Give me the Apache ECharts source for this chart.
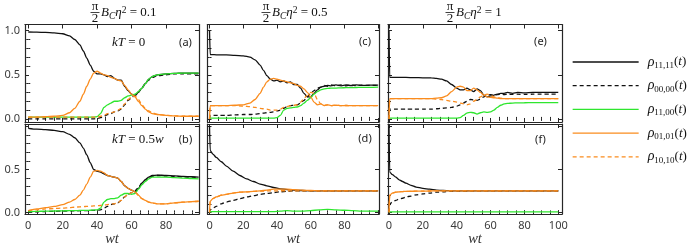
<!DOCTYPE html>
<html><head><meta charset="utf-8">
<script src="https://cdn.jsdelivr.net/npm/echarts@6/dist/echarts.min.js"></script>
<style>html,body{margin:0;padding:0;background:#fff}#c{width:696px;height:248px}</style>
</head><body><div id="c"></div><script>
// ---------- data ----------
const seriesNames = ['ρ11,11(t)', 'ρ00,00(t)', 'ρ11,00(t)', 'ρ01,01(t)', 'ρ10,10(t)'];
const seriesSubs = ['11,11', '00,00', '11,00', '01,01', '10,10'];
const colTitles = ['0.1', '0.5', '1'];
const rowLabels = ['0', '0.5'];
const panelTags = ['(a)', '(c)', '(e)', '(b)', '(d)', '(f)'];
const xMajor = [0, 20, 40, 60, 80, 100];
const xMinor = [5, 10, 15, 25, 30, 35, 45, 50, 55, 65, 70, 75, 85, 90, 95];
const xLabels12 = [0, 20, 40, 60, 80];
const xLabels3 = [0, 20, 40, 60, 80, 100];
const yMajor = [0, 0.5, 1];
const yMinor = [0.1, 0.2, 0.3, 0.4, 0.6, 0.7, 0.8, 0.9];
const yLabelsTop = [0, 0.5, 1];
const yLabelsBottom = [0, 0.5];

// panel (a): kT = 0, 0.1
const tA = [0,5,10,15,20,24,27,30,32,34,36,38,40,42,44,46,48,50,52,54,56,58,60,62,64,66,68,70,72,75,80,85,90,95,99];
const a1111 = [0.985,0.983,0.98,0.975,0.965,0.94,0.9,0.84,0.77,0.69,0.61,0.54,0.51,0.51,0.5,0.48,0.49,0.46,0.44,0.44,0.37,0.32,0.28,0.26,0.3,0.35,0.4,0.45,0.48,0.5,0.51,0.515,0.52,0.52,0.52];
const a0000 = [0,0,0,0,0,0,0,0,0,0,0,0,0.005,0.015,0.03,0.05,0.06,0.08,0.09,0.11,0.16,0.21,0.24,0.27,0.31,0.35,0.4,0.44,0.47,0.49,0.5,0.51,0.51,0.51,0.51];
const a1100 = [0.02,0.02,0.02,0.02,0.02,0.02,0.02,0.02,0.02,0.02,0.02,0.02,0.025,0.06,0.13,0.16,0.18,0.2,0.2,0.21,0.24,0.26,0.27,0.28,0.31,0.35,0.4,0.45,0.48,0.5,0.51,0.515,0.52,0.52,0.52];
const a0101 = [0.02,0.02,0.025,0.03,0.04,0.07,0.12,0.2,0.28,0.37,0.45,0.52,0.54,0.52,0.5,0.49,0.47,0.46,0.44,0.43,0.38,0.33,0.28,0.25,0.2,0.15,0.11,0.08,0.06,0.05,0.04,0.035,0.03,0.03,0.03];
const a1010 = [0.02,0.02,0.02,0.02,0.02,0.02,0.02,0.02,0.02,0.02,0.02,0.02,0.02,0.03,0.04,0.06,0.07,0.08,0.1,0.12,0.17,0.22,0.25,0.26,0.22,0.16,0.12,0.09,0.07,0.05,0.04,0.035,0.03,0.03,0.03];

// panel (b): kT = 0.5w, 0.1
const tB = [0,5,10,15,20,24,27,30,32,34,36,38,40,42,44,46,48,50,52,54,56,58,60,62,64,66,68,70,72,75,80,85,90,95,99];
const b1111 = [0.98,0.97,0.965,0.955,0.94,0.91,0.87,0.81,0.75,0.67,0.58,0.5,0.48,0.47,0.45,0.43,0.42,0.41,0.4,0.36,0.31,0.28,0.26,0.24,0.28,0.34,0.38,0.41,0.43,0.435,0.43,0.425,0.42,0.415,0.41];
const b0000 = [0,0.005,0.01,0.012,0.015,0.017,0.018,0.02,0.02,0.02,0.022,0.024,0.025,0.03,0.05,0.07,0.09,0.1,0.11,0.14,0.18,0.21,0.23,0.25,0.29,0.34,0.38,0.41,0.42,0.43,0.425,0.42,0.415,0.41,0.405];
const b1100 = [0.01,0.012,0.014,0.016,0.018,0.02,0.021,0.022,0.023,0.024,0.025,0.027,0.03,0.05,0.12,0.15,0.16,0.16,0.17,0.2,0.22,0.22,0.21,0.22,0.27,0.32,0.36,0.39,0.41,0.41,0.41,0.405,0.4,0.395,0.39];
const b0101 = [0.02,0.04,0.055,0.07,0.09,0.12,0.15,0.2,0.26,0.33,0.41,0.48,0.49,0.48,0.46,0.43,0.42,0.41,0.4,0.36,0.31,0.28,0.26,0.24,0.2,0.16,0.14,0.12,0.11,0.1,0.1,0.11,0.12,0.125,0.13];
const b1010 = [0.02,0.03,0.04,0.045,0.05,0.055,0.06,0.065,0.067,0.07,0.072,0.075,0.077,0.08,0.085,0.09,0.1,0.1,0.11,0.14,0.18,0.21,0.23,0.24,0.2,0.16,0.14,0.12,0.11,0.1,0.1,0.11,0.12,0.125,0.13];

// panel (c): kT = 0, 0.5
const tC = [0,0.4,5,10,15,20,24,27,30,32,34,36,38,40,42,44,46,48,50,52,54,56,58,60,62,64,66,68,70,72,75,78,81,84,87,90,95,100];
const c1111 = [1.0,0.73,0.725,0.725,0.72,0.715,0.7,0.67,0.61,0.55,0.49,0.45,0.43,0.44,0.42,0.43,0.41,0.42,0.39,0.39,0.35,0.29,0.25,0.25,0.29,0.33,0.36,0.37,0.38,0.375,0.385,0.375,0.385,0.378,0.385,0.38,0.382,0.382];
const c0000 = [0,0.04,0.04,0.04,0.045,0.05,0.05,0.055,0.06,0.065,0.07,0.075,0.08,0.09,0.1,0.12,0.14,0.15,0.155,0.16,0.18,0.21,0.25,0.29,0.32,0.35,0.36,0.38,0.37,0.385,0.375,0.385,0.375,0.383,0.378,0.382,0.38,0.38];
const c1100 = [0.01,0.01,0.01,0.01,0.01,0.01,0.01,0.01,0.01,0.01,0.01,0.01,0.01,0.015,0.04,0.1,0.12,0.125,0.13,0.135,0.15,0.18,0.21,0.24,0.28,0.31,0.33,0.34,0.345,0.35,0.35,0.352,0.354,0.355,0.356,0.357,0.358,0.36];
const c0101 = [0,0.15,0.15,0.15,0.155,0.16,0.18,0.22,0.29,0.36,0.42,0.45,0.46,0.45,0.44,0.43,0.42,0.41,0.4,0.38,0.37,0.34,0.3,0.25,0.19,0.16,0.17,0.15,0.16,0.15,0.155,0.15,0.152,0.15,0.15,0.15,0.15,0.15];
const c1010 = [0,0.15,0.15,0.15,0.15,0.145,0.14,0.13,0.12,0.115,0.11,0.1,0.1,0.1,0.11,0.13,0.14,0.15,0.155,0.16,0.19,0.23,0.27,0.3,0.29,0.22,0.17,0.15,0.16,0.15,0.155,0.15,0.152,0.15,0.15,0.15,0.15,0.15];

// panel (d): kT = 0.5w, 0.5
const tD = [0,0.4,2,4,7,10,14,18,22,26,30,34,38,42,46,50,55,60,65,70,75,80,85,90,95,100];
const d1111 = [1.0,0.72,0.68,0.64,0.59,0.54,0.48,0.43,0.39,0.36,0.33,0.31,0.29,0.275,0.265,0.26,0.255,0.25,0.25,0.25,0.25,0.25,0.25,0.25,0.25,0.25];
const d0000 = [0,0.03,0.05,0.07,0.1,0.12,0.14,0.16,0.18,0.195,0.21,0.22,0.23,0.24,0.245,0.25,0.25,0.25,0.25,0.25,0.25,0.25,0.25,0.25,0.25,0.25];
const d1100 = [0,0.01,0.01,0.01,0.01,0.01,0.01,0.01,0.01,0.01,0.01,0.01,0.01,0.015,0.02,0.015,0.015,0.02,0.03,0.035,0.03,0.025,0.02,0.015,0.015,0.015];
const d0101 = [0,0.13,0.16,0.18,0.2,0.21,0.225,0.235,0.24,0.245,0.25,0.26,0.27,0.27,0.27,0.265,0.26,0.255,0.25,0.25,0.25,0.25,0.25,0.25,0.25,0.25];
const d1010 = [0,0.13,0.16,0.18,0.2,0.21,0.225,0.235,0.24,0.245,0.248,0.25,0.25,0.252,0.252,0.25,0.25,0.25,0.25,0.25,0.25,0.25,0.25,0.25,0.25,0.25];

// panel (e): kT = 0, 1
const tE = [0,0.4,5,10,15,20,25,28,31,34,37,40,42,44,46,48,50,52,54,56,58,60,62,64,66,68,70,73,76,80,85,90,95,100];
const e1111 = [1.0,0.47,0.47,0.47,0.468,0.466,0.465,0.46,0.45,0.43,0.39,0.35,0.33,0.33,0.35,0.33,0.31,0.34,0.32,0.27,0.25,0.26,0.27,0.28,0.29,0.29,0.3,0.29,0.3,0.295,0.3,0.3,0.3,0.3];
const e0000 = [0,0.11,0.11,0.11,0.11,0.11,0.11,0.115,0.12,0.125,0.13,0.145,0.16,0.18,0.2,0.22,0.215,0.21,0.225,0.25,0.27,0.275,0.27,0.275,0.28,0.275,0.28,0.278,0.28,0.278,0.28,0.28,0.28,0.28];
const e1100 = [0.01,0.01,0.01,0.01,0.01,0.01,0.01,0.01,0.01,0.01,0.01,0.01,0.015,0.04,0.065,0.075,0.07,0.055,0.07,0.08,0.075,0.08,0.1,0.13,0.155,0.17,0.175,0.18,0.182,0.183,0.184,0.185,0.185,0.185];
const e0101 = [0,0.23,0.23,0.23,0.23,0.23,0.23,0.235,0.24,0.26,0.31,0.36,0.37,0.36,0.32,0.32,0.35,0.33,0.3,0.27,0.25,0.245,0.24,0.235,0.23,0.23,0.23,0.23,0.23,0.23,0.23,0.23,0.23,0.23];
const e1010 = [0,0.23,0.23,0.23,0.23,0.23,0.23,0.225,0.22,0.21,0.2,0.19,0.18,0.17,0.16,0.17,0.2,0.22,0.25,0.27,0.28,0.27,0.25,0.24,0.235,0.23,0.23,0.23,0.23,0.23,0.23,0.23,0.23,0.23];

// panel (f): kT = 0.5w, 1
const tF = [0,0.4,2,4,6,8,10,13,16,20,24,28,32,36,40,50,60,70,80,90,100];
const f1111 = [1.0,0.47,0.44,0.41,0.38,0.36,0.34,0.315,0.295,0.28,0.27,0.26,0.255,0.253,0.25,0.25,0.25,0.25,0.25,0.25,0.25];
const f0000 = [0,0.1,0.12,0.14,0.155,0.165,0.18,0.19,0.205,0.215,0.225,0.235,0.24,0.245,0.248,0.25,0.25,0.25,0.25,0.25,0.25];
const f1100 = [0,0.005,0.005,0.005,0.005,0.005,0.005,0.005,0.005,0.005,0.005,0.005,0.005,0.005,0.005,0.005,0.005,0.005,0.005,0.005,0.005];
const f0101 = [0,0.2,0.225,0.235,0.24,0.243,0.245,0.246,0.247,0.248,0.249,0.25,0.25,0.25,0.25,0.25,0.25,0.25,0.25,0.25,0.25];
const f1010 = [0,0.2,0.225,0.235,0.24,0.243,0.245,0.246,0.247,0.248,0.249,0.25,0.25,0.25,0.25,0.25,0.25,0.25,0.25,0.25,0.25];

// ---------- layout ----------
const panels = [
  {t: tA, v: [a1111, a0000, a1100, a0101, a1010]},
  {t: tC, v: [c1111, c0000, c1100, c0101, c1010]},
  {t: tE, v: [e1111, e0000, e1100, e0101, e1010]},
  {t: tB, v: [b1111, b0000, b1100, b0101, b1010]},
  {t: tD, v: [d1111, d0000, d1100, d0101, d1010]},
  {t: tF, v: [f1111, f0000, f1100, f0101, f1010]}
];
const cols = [
  {left: 25, width: 174, min: -1.9, max: 99.2, labels: xLabels12},
  {left: 207.5, width: 171.5, min: -1.2, max: 100.5, labels: xLabels12},
  {left: 388, width: 174, min: -0.6, max: 102.2, labels: xLabels3}
];
const rows = [
  {top: 24.5, height: 97.5, min: -0.035, max: 1.07, labels: yLabelsTop},
  {top: 124, height: 93.5, min: -0.02, max: 1.03, labels: yLabelsBottom}
];
const BLACK = '#111', GREEN = '#2ee62e', ORANGE = '#fa8c1e';
const styles = [
  {color: BLACK, type: 'solid'},
  {color: BLACK, type: [4, 3]},
  {color: GREEN, type: 'solid'},
  {color: ORANGE, type: 'solid'},
  {color: ORANGE, type: [4, 3]}
];
const frameCol = '#262626';
const labelFont = {fontFamily: 'Noto Sans', fontSize: 11, color: '#3a3a3a'};

const grid = [], xAxis = [], yAxis = [], series = [];
for (let r = 0; r < 2; r++) {
  for (let c = 0; c < 3; c++) {
    const gi = r * 3 + c;
    const C = cols[c], R = rows[r];
    grid.push({left: C.left, top: R.top, width: C.width, height: R.height, containLabel: false});
    const xBase = {gridIndex: gi, type: 'value', min: C.min, max: C.max, splitLine: {show: false}};
    const yBase = {gridIndex: gi, type: 'value', min: R.min, max: R.max, splitLine: {show: false}};
    const line = {show: true, onZero: false, lineStyle: {color: frameCol, width: 1.2}};
    const showX = r === 1, showY = c === 0;
    xAxis.push(Object.assign({}, xBase, {position: 'bottom', axisLine: line,
      axisTick: {show: true, inside: true, length: 4, customValues: xMajor, lineStyle: {color: frameCol}},
      axisLabel: Object.assign({show: showX, customValues: C.labels, margin: 6}, labelFont),
      name: showX ? 'wt' : '', nameLocation: 'middle', nameGap: 16,
      nameTextStyle: {fontFamily: 'Liberation Serif', fontStyle: 'italic', fontSize: 14.5, color: '#333'}}));
    xAxis.push(Object.assign({}, xBase, {position: 'top', axisLine: line,
      axisTick: {show: true, inside: true, length: 4, customValues: xMajor, lineStyle: {color: frameCol}},
      axisLabel: {show: false}}));
    xAxis.push(Object.assign({}, xBase, {position: 'bottom', axisLine: {show: false},
      axisTick: {show: true, inside: true, length: 2, customValues: xMinor, lineStyle: {color: frameCol}},
      axisLabel: {show: false}}));
    xAxis.push(Object.assign({}, xBase, {position: 'top', axisLine: {show: false},
      axisTick: {show: true, inside: true, length: 2, customValues: xMinor, lineStyle: {color: frameCol}},
      axisLabel: {show: false}}));
    yAxis.push(Object.assign({}, yBase, {position: 'left', axisLine: line,
      axisTick: {show: true, inside: true, length: 4, customValues: yMajor, lineStyle: {color: frameCol}},
      axisLabel: Object.assign({show: showY, customValues: R.labels, margin: 5,
        formatter: v => Number(v).toFixed(1)}, labelFont)}));
    yAxis.push(Object.assign({}, yBase, {position: 'right', axisLine: line,
      axisTick: {show: true, inside: true, length: 4, customValues: yMajor, lineStyle: {color: frameCol}},
      axisLabel: {show: false}}));
    yAxis.push(Object.assign({}, yBase, {position: 'left', axisLine: {show: false},
      axisTick: {show: true, inside: true, length: 2, customValues: yMinor, lineStyle: {color: frameCol}},
      axisLabel: {show: false}}));
    yAxis.push(Object.assign({}, yBase, {position: 'right', axisLine: {show: false},
      axisTick: {show: true, inside: true, length: 2, customValues: yMinor, lineStyle: {color: frameCol}},
      axisLabel: {show: false}}));
    const P = panels[gi];
    for (let k = 0; k < 5; k++) {
      series.push({
        type: 'line', name: seriesNames[k], xAxisIndex: gi * 4, yAxisIndex: gi * 4,
        data: P.t.map((t, i) => [t, P.v[k][i]]),
        symbol: 'none', smooth: 0.25, smoothMonotone: 'x', animation: false, silent: true,
        lineStyle: {color: styles[k].color, width: 1.3, type: styles[k].type},
        itemStyle: {color: styles[k].color}, z: 2 + k
      });
    }
  }
}

// ---------- texts ----------
const serif = 'Liberation Serif';
const titleRich = {
  i: {fontFamily: serif, fontStyle: 'italic', fontSize: 13, lineHeight: 16, fill: '#111'},
  s: {fontFamily: serif, fontStyle: 'italic', fontSize: 9.5, lineHeight: 9.5, verticalAlign: 'bottom', fill: '#111'},
  p: {fontFamily: serif, fontSize: 9.5, lineHeight: 9.5, verticalAlign: 'top', fill: '#111'},
  n: {fontFamily: serif, fontSize: 13, lineHeight: 16, fill: '#111'}
};
const kRich = {
  i: {fontFamily: serif, fontStyle: 'italic', fontSize: 13, lineHeight: 16, fill: '#111'},
  n: {fontFamily: serif, fontSize: 13, lineHeight: 16, fill: '#111'}
};
const fracX = [95, 266, 450];
const graphic = [];
colTitles.forEach((val, c) => {
  const fx = fracX[c];
  graphic.push({type: 'text', x: fx, y: 6.5, style: {text: 'π', fontFamily: serif, fontSize: 13, fill: '#111', align: 'center', verticalAlign: 'middle'}});
  graphic.push({type: 'line', shape: {x1: fx - 4.5, y1: 12.5, x2: fx + 4.5, y2: 12.5}, style: {stroke: '#111', lineWidth: 0.8}});
  graphic.push({type: 'text', x: fx, y: 18.5, style: {text: '2', fontFamily: serif, fontSize: 13, fill: '#111', align: 'center', verticalAlign: 'middle'}});
  graphic.push({type: 'text', x: fx + 6, y: 13, style: {text: '{i|B}{s|C}{i|η}{p|2}{n| = ' + val + '}', rich: titleRich, align: 'left', verticalAlign: 'middle'}});
});
graphic.push({type: 'text', x: 112, y: 43, style: {text: '{i|kT}{n| = ' + rowLabels[0] + '}', rich: kRich, align: 'left', verticalAlign: 'middle'}});
graphic.push({type: 'text', x: 112, y: 140, style: {text: '{i|kT}{n| = ' + rowLabels[1] + '}{i|w}', rich: kRich, align: 'left', verticalAlign: 'middle'}});
const tagPos = [[185.5, 43], [365, 42], [540.5, 42], [185.5, 140], [365, 139], [540.5, 140]];
panelTags.forEach((tg, i) => {
  graphic.push({type: 'text', x: tagPos[i][0], y: tagPos[i][1], style: {text: tg, fontFamily: 'Noto Sans', fontSize: 11, fill: '#222', align: 'center', verticalAlign: 'middle'}});
});

const legendRich = {
  r: {fontFamily: serif, fontStyle: 'italic', fontSize: 14, lineHeight: 16, color: '#111'},
  s: {fontFamily: serif, fontSize: 9, lineHeight: 9, verticalAlign: 'bottom', color: '#111'},
  n: {fontFamily: serif, fontSize: 13, lineHeight: 16, color: '#111'},
  i: {fontFamily: serif, fontStyle: 'italic', fontSize: 13, lineHeight: 16, color: '#111'}
};

const chart = echarts.init(document.getElementById('c'), null, {renderer: 'canvas'});
chart.setOption({
  animation: false,
  backgroundColor: '#fff',
  grid, xAxis, yAxis, series, graphic,
  legend: {
    show: true, orient: 'vertical', left: 572, top: 55, padding: 0,
    itemWidth: 66, itemHeight: 12, itemGap: 8.7, selectedMode: false,
    data: seriesNames,
    itemStyle: {opacity: 0, borderWidth: 0},
    lineStyle: {width: 1.3},
    formatter: name => '{r|ρ}{s|' + seriesSubs[seriesNames.indexOf(name)] + '}{n|(}{i|t}{n|)}',
    textStyle: {rich: legendRich, padding: [0, 0, 0, 4]}
  }
});
</script></body></html>
